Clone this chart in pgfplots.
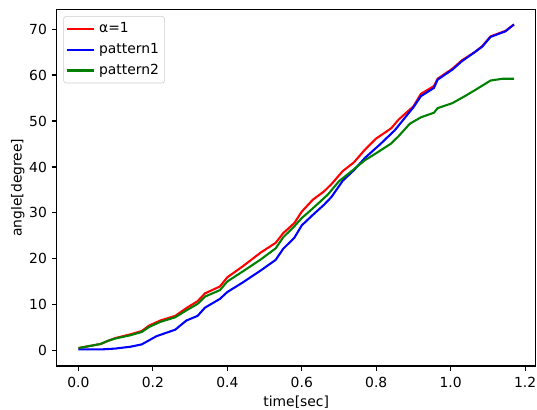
\documentclass[border=0pt]{standalone}
\usepackage{fontspec}
\setmainfont{DejaVu Sans}
\usepackage{pgfplots}
\pgfplotsset{compat=1.18}

\definecolor{mplgreen}{rgb}{0,0.5,0}

\begin{document}
\begin{tikzpicture}
    \begin{axis}[
        % size of the axis box only
        scale only axis,
        width  = 344.9pt,
        height = 256.8pt,
        % limits
        xmin = -0.0585, xmax = 1.2285,
        ymin = -3.3,    ymax = 74.3,
        % ticks
        xtick       = {0,0.2,0.4,0.6,0.8,1.0,1.2},
        xticklabels = {0.0,0.2,0.4,0.6,0.8,1.0,1.2},
        ytick       = {0,10,20,30,40,50,60,70},
        tick align  = outside,
        tick pos    = left,
        major tick length = 3.5pt,
        every tick/.style = {black, line width=0.8pt},
        axis line style   = {line width=0.8pt},
        tick label style  = {font=\fontsize{10}{12}\selectfont},
        xticklabel style  = {yshift=-1pt},
        /pgf/number format/assume math mode = true,
        % labels
        xlabel = {time[sec]},
        ylabel = {angle[degree]},
        label style  = {font=\fontsize{10}{12}\selectfont},
        xlabel style = {at={(axis description cs:0.5,-0.1)}, anchor=center},
        ylabel style = {at={(axis description cs:-0.0809,0.5)}, anchor=center},
        % legend
        legend cell align = left,
        legend style = {
            at = {(0.0138,0.981)}, anchor = north west,
            draw = black!20, rounded corners = 2pt,
            inner sep = 1.5pt,
            font = \fontsize{10}{12}\selectfont,
            nodes = {text height=7.6pt, text depth=2.2pt, inner sep=2.6pt},
            /tikz/every even column/.append style = {column sep=2.5pt},
        },
        legend image code/.code = {
            \draw[#1] (0pt,0pt) -- (20pt,0pt);
        },
    ]

        % alpha = 1
        \addplot[red, line width=1.5pt] coordinates {
            (0.0,0.6) (0.06,1.5) (0.08,2.2) (0.1,2.8) (0.14,3.6) (0.17,4.3)
            (0.19,5.5) (0.22,6.6) (0.26,7.6) (0.29,9.3) (0.32,10.8) (0.34,12.5)
            (0.38,14.0) (0.40,16.0) (0.44,18.3) (0.49,21.4) (0.53,23.5)
            (0.55,25.6) (0.58,27.8) (0.60,30.3) (0.63,32.9) (0.66,34.7)
            (0.68,36.3) (0.71,39.1) (0.74,41.0) (0.77,43.8) (0.80,46.2)
            (0.84,48.4) (0.86,50.3) (0.90,53.2) (0.92,55.9) (0.955,57.6)
            (0.965,59.2) (1.005,61.4) (1.03,63.2) (1.065,65.0) (1.085,66.3)
            (1.107,68.4) (1.147,69.6) (1.17,71.0)
        };
        \addlegendentry{α=1}

        % pattern1
        \addplot[blue, line width=1.5pt] coordinates {
            (0.0,0.3) (0.06,0.3) (0.1,0.5) (0.14,0.9) (0.17,1.4) (0.21,3.2)
            (0.26,4.6) (0.29,6.6) (0.32,7.6) (0.34,9.4) (0.38,11.3) (0.40,12.8)
            (0.44,14.8) (0.49,17.5) (0.53,19.8) (0.55,22.2) (0.58,24.6)
            (0.60,27.3) (0.63,29.6) (0.66,31.8) (0.68,33.5) (0.71,37.0)
            (0.74,39.3) (0.77,42.0) (0.81,44.9) (0.85,48.0) (0.88,51.0)
            (0.90,53.0) (0.92,55.4) (0.955,57.2) (0.965,59.0) (1.005,61.2)
            (1.03,63.0) (1.065,65.0) (1.085,66.2) (1.107,68.3) (1.147,69.5)
            (1.17,71.0)
        };
        \addlegendentry{pattern1}

        % pattern2
        \addplot[mplgreen, line width=1.5pt] coordinates {
            (0.0,0.6) (0.06,1.5) (0.08,2.2) (0.1,2.7) (0.14,3.4) (0.17,4.1)
            (0.19,5.2) (0.22,6.3) (0.26,7.3) (0.29,8.8) (0.32,10.2) (0.34,11.8)
            (0.38,13.2) (0.40,15.1) (0.44,17.2) (0.49,19.9) (0.53,22.3)
            (0.55,24.7) (0.58,27.1) (0.60,28.9) (0.62,30.3) (0.65,32.5)
            (0.67,34.0) (0.70,36.9) (0.74,39.5) (0.77,41.5) (0.80,43.0)
            (0.84,45.1) (0.86,46.7) (0.89,49.4) (0.92,50.8) (0.955,51.8)
            (0.965,52.8) (1.005,53.9) (1.04,55.5) (1.065,56.7) (1.107,58.8)
            (1.14,59.2) (1.17,59.2)
        };
        \addlegendentry{pattern2}
    \end{axis}
    % page the size of the reference, axis box placed as there
    \pgfresetboundingbox
    \path[use as bounding box] (-40.8pt,-31pt) rectangle (345.8pt,263.5pt);
\end{tikzpicture}
\end{document}
